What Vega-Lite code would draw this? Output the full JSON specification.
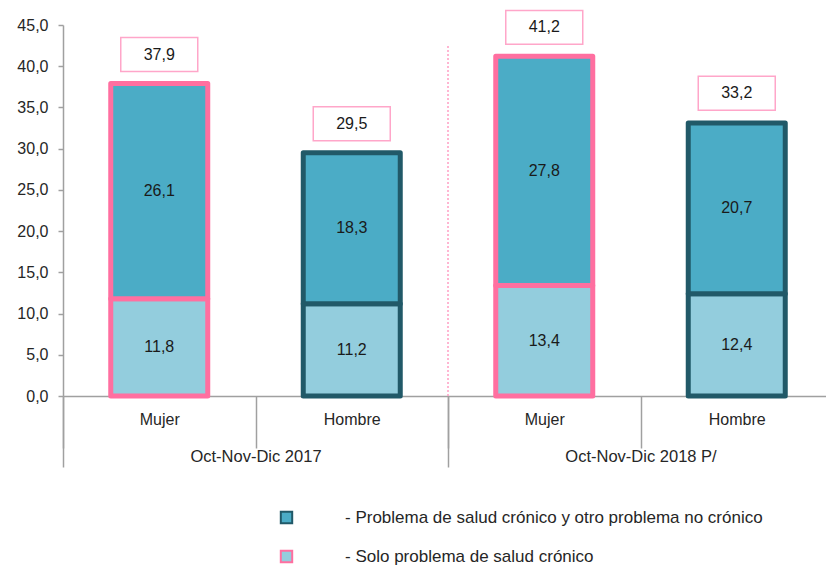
{
  "$schema": "https://vega.github.io/schema/vega-lite/v6.json",
  "width": 770,
  "height": 371,
  "autosize": {"type": "none"},
  "padding": {"left": 63, "top": 25, "right": 0, "bottom": 169},
  "config": {
    "view": {"stroke": null},
    "font": "Liberation Sans",
    "locale": {"number": {"decimal": ",", "thousands": ".", "grouping": [3], "currency": ["", ""]}},
    "axis": {"labelColor": "#262626", "labelFontSize": 16, "domainColor": "#a0a0a0", "tickColor": "#a0a0a0", "domainWidth": 1.5, "tickWidth": 1.5, "grid": false, "title": null}
  },
  "datasets": {
    "barras": [
      {"cat": "2017|Mujer", "sexo": "Mujer", "serie": "Solo problema de salud crónico", "valor": 11.8},
      {"cat": "2017|Mujer", "sexo": "Mujer", "serie": "Problema de salud crónico y otro problema no crónico", "valor": 26.1},
      {"cat": "2017|Hombre", "sexo": "Hombre", "serie": "Solo problema de salud crónico", "valor": 11.2},
      {"cat": "2017|Hombre", "sexo": "Hombre", "serie": "Problema de salud crónico y otro problema no crónico", "valor": 18.3},
      {"cat": "2018|Mujer", "sexo": "Mujer", "serie": "Solo problema de salud crónico", "valor": 13.4},
      {"cat": "2018|Mujer", "sexo": "Mujer", "serie": "Problema de salud crónico y otro problema no crónico", "valor": 27.8},
      {"cat": "2018|Hombre", "sexo": "Hombre", "serie": "Solo problema de salud crónico", "valor": 12.4},
      {"cat": "2018|Hombre", "sexo": "Hombre", "serie": "Problema de salud crónico y otro problema no crónico", "valor": 20.7}
    ],
    "totales": [
      {"cat": "2017|Mujer", "total": 37.9},
      {"cat": "2017|Hombre", "total": 29.5},
      {"cat": "2018|Mujer", "total": 41.2},
      {"cat": "2018|Hombre", "total": 33.2}
    ],
    "periodos": [
      {"periodo": "Oct-Nov-Dic 2017"},
      {"periodo": "Oct-Nov-Dic 2018 P/"}
    ]
  },
  "resolve": {"scale": {"x": "independent"}, "axis": {"x": "independent"}},
  "layer": [
    {
      "encoding": {
        "x": {
          "field": "cat", "type": "nominal",
          "sort": ["2017|Mujer", "2017|Hombre", "2018|Mujer", "2018|Hombre"],
          "scale": {"paddingInner": 0, "paddingOuter": 0},
          "axis": {"orient": "bottom", "labelExpr": "split(datum.label, '|')[1]", "labelAngle": 0, "tickBand": "extent", "tickSize": 52, "labelPadding": -37, "labelBaseline": "top"}
        }
      },
      "layer": [
        {
          "data": {"name": "barras"},
          "mark": {"type": "bar", "width": 97, "strokeWidth": 5, "strokeJoin": "round"},
          "encoding": {
            "y": {"field": "valor", "type": "quantitative", "stack": "zero",
              "scale": {"domain": [0, 45], "nice": false},
              "axis": {"values": [0, 5, 10, 15, 20, 25, 30, 35, 40, 45], "format": ".1f", "tickSize": 5, "labelPadding": 10}},
            "color": {"field": "serie", "type": "nominal",
              "scale": {"domain": ["Problema de salud crónico y otro problema no crónico", "Solo problema de salud crónico"], "range": ["#4BACC6", "#93CDDD"]},
              "legend": {
                "orient": "none", "legendX": 215, "legendY": 484, "title": null,
                "symbolType": "square", "symbolSize": 130, "symbolStrokeWidth": 2,
                "labelFontSize": 17, "labelColor": "#262626", "labelOffset": 50, "rowPadding": 18, "labelLimit": 600,
                "labelExpr": "'- ' + datum.label",
                "encode": {"symbols": {"update": {"stroke": {"signal": "datum.value == 'Solo problema de salud crónico' ? '#FF6FA0' : '#215968'"}, "strokeWidth": {"value": 2}}}}
              }},
            "stroke": {"field": "sexo", "type": "nominal", "scale": {"domain": ["Mujer", "Hombre"], "range": ["#FF6FA0", "#215968"]}, "legend": null},
            "order": {"field": "serie", "sort": "descending"}
          }
        },
        {
          "data": {"name": "barras"},
          "transform": [
            {"stack": "valor", "groupby": ["cat"], "sort": [{"field": "serie", "order": "descending"}], "as": ["v0", "v1"]},
            {"calculate": "(datum.v0 + datum.v1) / 2", "as": "medio"}
          ],
          "mark": {"type": "text", "fontSize": 16, "color": "#1a1a1a"},
          "encoding": {
            "y": {"field": "medio", "type": "quantitative"},
            "text": {"field": "valor", "type": "quantitative", "format": ".1f"}
          }
        },
        {
          "data": {"name": "totales"},
          "mark": {"type": "point", "shape": "M-1,-0.44H1V0.44H-1Z", "size": 5929, "filled": true, "fill": "white", "stroke": "#FFA6C9", "strokeWidth": 1.5, "opacity": 1, "yOffset": -29},
          "encoding": {
            "y": {"field": "total", "type": "quantitative"}
          }
        },
        {
          "data": {"name": "totales"},
          "mark": {"type": "text", "fontSize": 16, "color": "#1a1a1a", "dy": -29},
          "encoding": {
            "y": {"field": "total", "type": "quantitative"},
            "text": {"field": "total", "type": "quantitative", "format": ".1f"}
          }
        }
      ]
    },
    {
      "data": {"name": "periodos"},
      "mark": {"type": "rule", "strokeDash": [2, 2], "color": "#FF9FC4", "strokeWidth": 1.5},
      "encoding": {
        "x": {"field": "periodo", "type": "nominal", "bandPosition": 0,
          "scale": {"paddingInner": 0, "paddingOuter": 0},
          "axis": {"orient": "bottom", "labelAngle": 0, "tickBand": "extent", "tickSize": 71, "labelPadding": -19, "labelBaseline": "top", "domain": false, "labelFontSize": 16.5}},
        "y": {"datum": 0, "type": "quantitative"},
        "y2": {"datum": 42.45},
        "strokeOpacity": {"condition": {"test": "datum.periodo == 'Oct-Nov-Dic 2017'", "value": 0}, "value": 1}
      }
    }
  ]
}
